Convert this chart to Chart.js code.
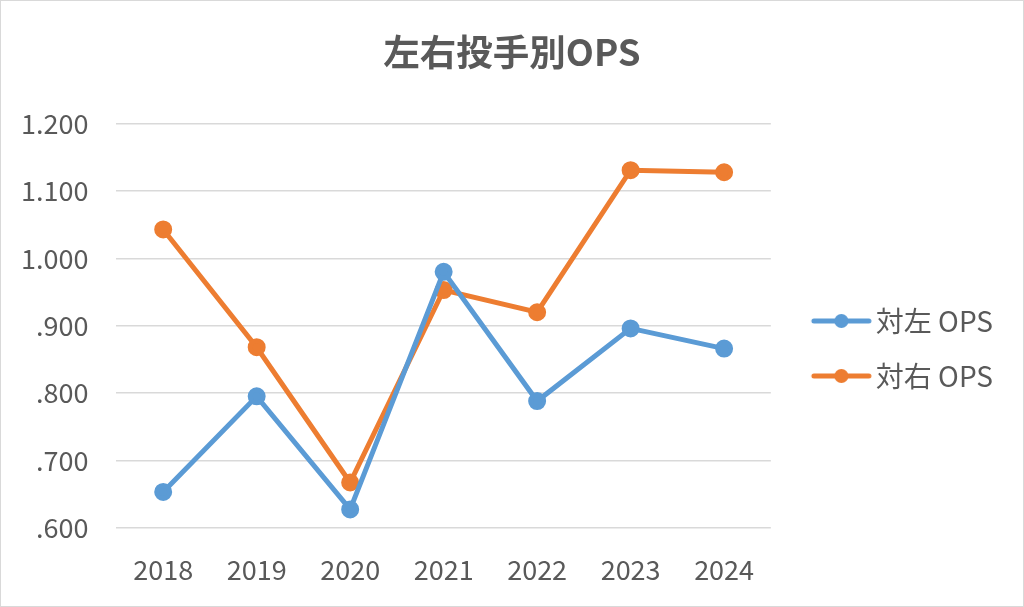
<!DOCTYPE html>
<html><head><meta charset="utf-8">
<script src="https://cdn.jsdelivr.net/npm/chart.js@4/dist/chart.umd.min.js"></script>
<style>
html,body{margin:0;padding:0;background:#fff;}
#wrap{width:1024px;height:607px;box-sizing:border-box;border:1px solid #d9d9d9;position:relative;}
canvas{display:block;}
</style></head>
<body><div id="wrap"><canvas id="c" width="1022" height="605"></canvas></div>
<script>
const title = '左右投手別OPS';
const categories = ['2018','2019','2020','2021','2022','2023','2024'];
const seriesNames = ['対左 OPS','対右 OPS'];
const vsLeft = [0.653, 0.795, 0.627, 0.980, 0.788, 0.896, 0.866];
const vsRight = [1.043, 0.868, 0.667, 0.953, 0.920, 1.131, 1.128];
const colors = ['#5b9bd5', '#ed7d31'];

const FONT = "'Noto Sans CJK JP', 'Noto Sans', sans-serif";
const TXT = '#595959';

function legendIcon(color){
  const c = document.createElement('canvas');
  c.width = 90; c.height = 18;
  const x = c.getContext('2d');
  x.strokeStyle = color; x.lineWidth = 5; x.lineCap = 'round';
  x.beginPath(); x.moveTo(29, 9); x.lineTo(84, 9); x.stroke();
  x.fillStyle = color; x.beginPath(); x.arc(56.5, 9, 7, 0, Math.PI*2); x.fill();
  return c;
}
const icons = colors.map(legendIcon);

function fmt(v){
  const s = v.toFixed(3);
  return v < 1 ? s.replace(/^0/, '') : s;
}

new Chart(document.getElementById('c'), {
  type: 'line',
  data: {
    labels: categories,
    datasets: [
      {label: seriesNames[0], data: vsLeft, borderColor: colors[0], backgroundColor: colors[0], borderWidth: 5, pointRadius: 6.5, pointHoverRadius: 6.5, tension: 0},
      {label: seriesNames[1], data: vsRight, borderColor: colors[1], backgroundColor: colors[1], borderWidth: 5, pointRadius: 6.5, pointHoverRadius: 6.5, tension: 0}
    ]
  },
  options: {
    responsive: false,
    animation: false,
    layout: {padding: {left: 20, right: 20, top: 0, bottom: 20}},
    plugins: {
      title: {display: true, text: title, color: TXT, font: {family: FONT, size: 36.5, weight: 'bold', lineHeight: 1.2}, padding: {top: 29, bottom: 50}},
      legend: {
        position: 'right',
        title: {display: true, text: ' ', font: {size: 1, lineHeight: 1}, padding: {top: 0, bottom: 109}},
        labels: {
          color: TXT, font: {family: FONT, size: 28},
          usePointStyle: true, pointStyleWidth: 64, padding: 27,
          generateLabels: (chart) => chart.data.datasets.map((d, i) => ({
            text: d.label, pointStyle: icons[i], fillStyle: colors[i], strokeStyle: colors[i], lineWidth: 0, datasetIndex: i, fontColor: TXT
          }))
        }
      },
      tooltip: {enabled: false}
    },
    scales: {
      x: {
        offset: true,
        grid: {display: false, drawTicks: false},
        border: {display: false},
        ticks: {color: TXT, font: {family: FONT, size: 27, lineHeight: 1.2}, padding: 26},
        afterFit: (s) => { s.height -= 26; }
      },
      y: {
        min: 0.6, max: 1.2,
        border: {display: false},
        grid: {
          color: (ctx) => (Math.round(ctx.tick.value * 100) % 10 === 0 ? '#d9d9d9' : '#f2f2f2'),
          lineWidth: 1.5, drawTicks: false
        },
        ticks: {
          stepSize: 0.05, color: TXT, font: {family: FONT, size: 27}, padding: 28,
          callback: (v) => (Math.round(v * 100) % 10 === 0 ? fmt(v) : '')
        },
        afterFit: (s) => { s.width -= 28; }
      }
    }
  }
});
</script></body></html>
